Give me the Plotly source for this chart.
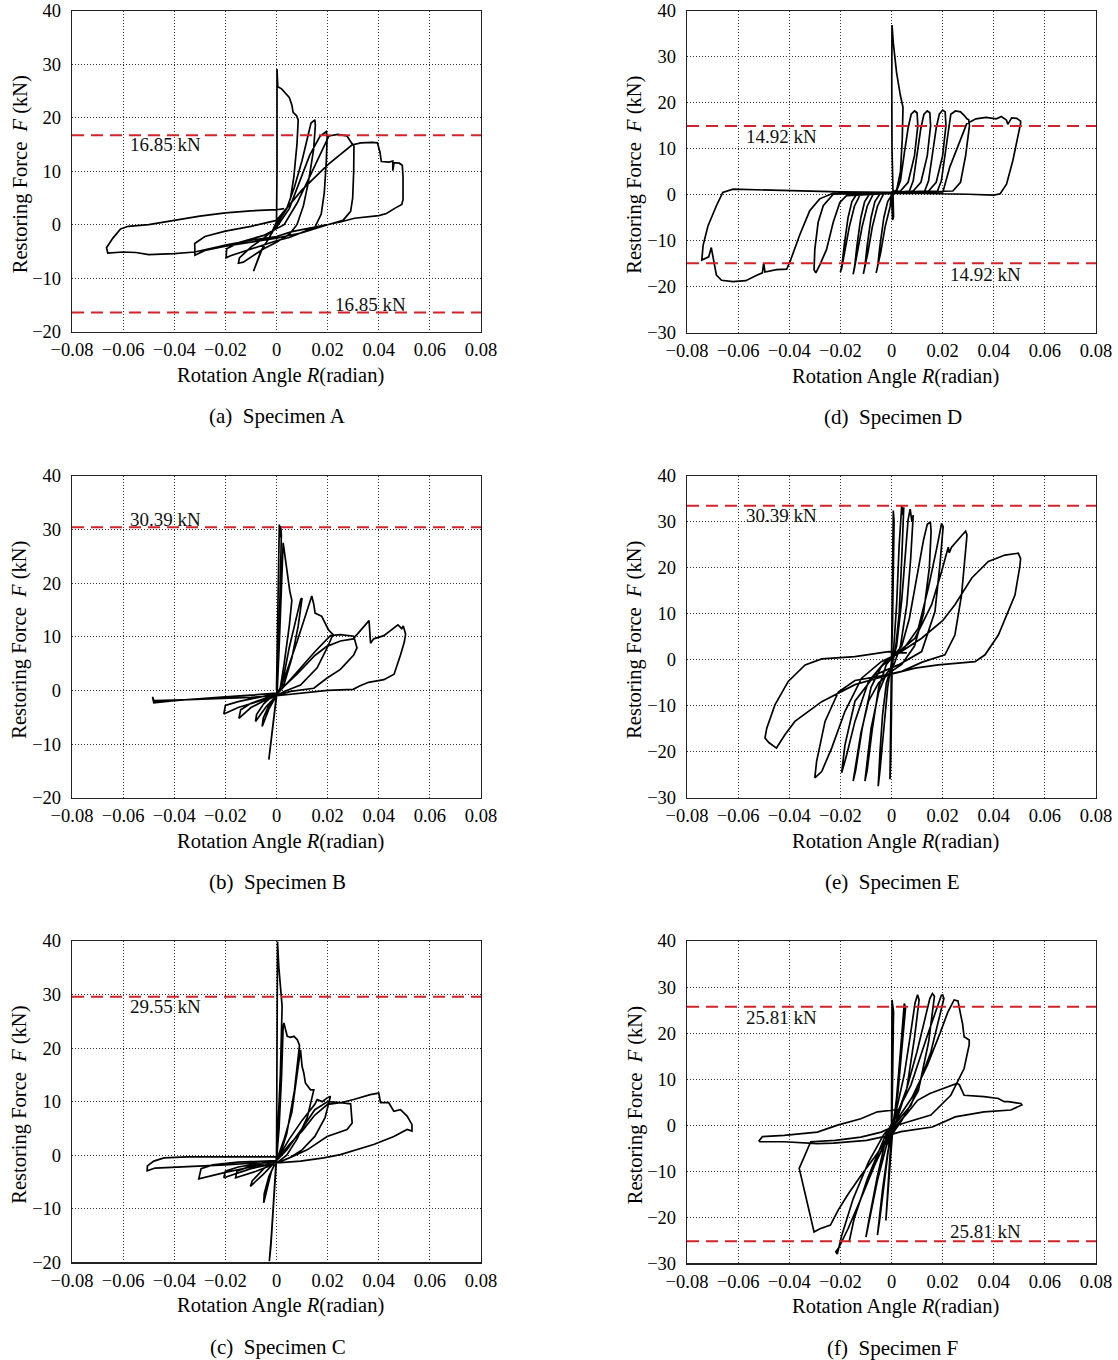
import plotly.graph_objects as go

# ---------------- data ----------------
R_TICKVALS = [-0.08, -0.06, -0.04, -0.02, 0, 0.02, 0.04, 0.06, 0.08]
R_TICKTEXT = ["−0.08", "−0.06", "−0.04", "−0.02", "0", "0.02", "0.04", "0.06", "0.08"]
F_TICKS_20 = [-20, -10, 0, 10, 20, 30, 40]
F_TICKS_30 = [-30, -20, -10, 0, 10, 20, 30, 40]

# Specimen A hysteresis (R [rad], F [kN])
A_PTS = [
    (0, 0), (0.0002, 10), (0.0002, 29.1), (0.0005, 25.8), (0.002, 25.4), (0.0035, 24.6), (0.005, 23.8), (0.006, 22.4),
    (0.0065, 21.0), (0.0078, 20.4), (0.0085, 19.6),
    (0.008, 15), (0.0068, 9), (0.0055, 5), (0.004, 3), (0.002, 1.5), (0, 0), (-0.003, -2.5), (-0.006, -5), (-0.008, -7.5), (-0.009, -8.7),
    (-0.0085, -8.2), (-0.006, -4.8), (-0.003, -2.6), (0, 0.5), (0.004, 3), (0.007, 7), (0.01, 12), (0.012, 16), (0.0135, 19),
    (0.015, 19.6), (0.0152, 18.6),
    (0.0145, 14), (0.0125, 8), (0.0105, 3.5), (0.008, 0), (0.005, -1.8), (0, -3.3), (-0.005, -4.5), (-0.01, -6), (-0.013, -7), (-0.0149, -7.2),
    (-0.0145, -6.2), (-0.01, -4.2), (-0.005, -2.5), (0, -0.5), (0.005, 3), (0.009, 8), (0.013, 13), (0.017, 16.5), (0.0195, 17.4), (0.0198, 16.5),
    (0.0195, 12), (0.0187, 6), (0.0175, 2), (0.015, -0.5), (0.01, -1.5), (0.005, -2.4), (0, -3), (-0.01, -4.5), (-0.018, -5.8), (-0.0197, -6.2),
    (-0.0195, -4.5), (-0.015, -3.4), (-0.005, -2), (0.003, 0), (0.008, 4), (0.013, 9), (0.017, 13), (0.0205, 16.6), (0.024, 16.9),
    (0.0275, 16.6), (0.0295, 15.2), (0.0303, 14.7),
    (0.0302, 10), (0.0298, 5), (0.029, 2.5), (0.026, 0.8), (0.02, 0), (0.01, -1.5), (0, -2.5), (-0.01, -3.3), (-0.02, -4), (-0.028, -4.8), (-0.0319, -5.7),
    (-0.032, -3.5), (-0.028, -2.2), (-0.02, -1.2), (-0.01, -0.3), (0, 0.8), (0.004, 3), (0.01, 6.5), (0.02, 11.2), (0.0295, 14.9),
    (0.033, 15.3), (0.0375, 15.4), (0.0395, 15.3), (0.0405, 13.5), (0.041, 11.8), (0.044, 11.7), (0.0455, 11.9), (0.0455, 10.1),
    (0.046, 11.6), (0.048, 11.5), (0.0492, 11.1), (0.0495, 9), (0.0495, 4.7),
    (0.049, 3.8), (0.0464, 3.1), (0.043, 2.1), (0.04, 1.7), (0.035, 1.5), (0.0305, 1.2), (0.025, 0.5), (0.02, 0), (0.012, -0.8),
    (0.006, -1.3), (0, -2.2), (-0.01, -2.9), (-0.019, -3.7), (-0.025, -4.3), (-0.032, -5.1), (-0.04, -5.4), (-0.05, -5.6),
    (-0.055, -5.2), (-0.06, -5.1), (-0.066, -5.3),
    (-0.0665, -4.3), (-0.064, -2.5), (-0.061, -0.8), (-0.058, -0.3), (-0.05, 0), (-0.04, 0.8), (-0.03, 1.6), (-0.02, 2.2),
    (-0.01, 2.6), (0, 2.8), (0.003, 3),
]

# Specimen D
D_PTS = [
    (0, 0), (0.0004, -5.5), (0.0008, -4.8), (0.0006, 0), (0.0002, 10), (0.0001, 25), (0.0002, 36.9), (0.0007, 33), (0.002, 26.5),
    (0.0035, 21.5), (0.0045, 19),
    (0.0042, 12), (0.0035, 5), (0.002, 1), (0, 0.4),
    (-0.0005, -2.5), (-0.0025, -7), (-0.0042, -12.5), (-0.0055, -16), (-0.006, -17), (-0.0054, -15.5), (-0.0045, -11), (-0.003, -5),
    (-0.0015, -1.5), (0.0005, 0.3),
    (0.002, 0.8), (0.0035, 3), (0.005, 9), (0.0065, 14.5), (0.0077, 17.5), (0.009, 18.2), (0.01, 17.8), (0.0103, 15), (0.009, 8.5),
    (0.0065, 2.7), (0.0035, 0.8), (0, 0.5),
    (-0.003, 0.3), (-0.0055, -2.5), (-0.0075, -7), (-0.0092, -12.5), (-0.0105, -16), (-0.011, -17.2), (-0.0104, -15.5), (-0.0095, -11),
    (-0.008, -5), (-0.0065, -1.5), (-0.0045, 0.2), (0, 0.4),
    (0.007, 0.8), (0.0085, 3), (0.01, 9), (0.0115, 14.5), (0.0127, 17.5), (0.014, 18.2), (0.015, 17.8), (0.0153, 15), (0.014, 8.5),
    (0.0115, 2.7), (0.0085, 0.8), (0, 0.4),
    (-0.007, 0.3), (-0.0095, -2.5), (-0.0115, -7), (-0.0132, -12.5), (-0.0145, -16), (-0.015, -17.3), (-0.0144, -15.5), (-0.0135, -11),
    (-0.012, -5), (-0.0105, -1.5), (-0.0085, 0.2), (0, 0.4),
    (0.013, 0.8), (0.0145, 3), (0.016, 9), (0.0175, 14.5), (0.0187, 17.5), (0.02, 18.4), (0.021, 18), (0.0213, 15), (0.02, 8.5),
    (0.0175, 2.7), (0.0145, 0.8), (0, 0.4),
    (-0.012, 0.3), (-0.0145, -2.5), (-0.0165, -7), (-0.0182, -12.5), (-0.0195, -16), (-0.02, -16.8), (-0.0194, -15.5), (-0.0185, -11),
    (-0.017, -5), (-0.0155, -1.5), (-0.0135, 0.2), (0, 0.4),
    (0.018, 0.8), (0.0195, 3), (0.021, 9), (0.0222, 14.5), (0.0232, 17.5), (0.025, 18.2), (0.027, 18), (0.0285, 17.2), (0.0295, 16.5),
    (0.0302, 16.3), (0.0305, 15), (0.029, 8.5), (0.027, 2.7), (0.024, 0.8), (0, 0.4),
    (-0.0228, 0.1), (-0.0267, -2.4), (-0.0287, -6), (-0.03, -11.9), (-0.0303, -16.3), (-0.0296, -17), (-0.028, -15.2), (-0.0254, -11.9),
    (-0.0228, -6), (-0.0202, -1.7), (-0.0176, -0.2), (0, 0.3),
    (0.02, 0.4), (0.0228, 6), (0.0268, 11.8), (0.0294, 15.4), (0.033, 16.5), (0.037, 16.8), (0.041, 16.5), (0.043, 17), (0.045, 16.2),
    (0.0455, 15.3), (0.047, 16.7), (0.049, 16.6), (0.0505, 16), (0.0505, 15.5),
    (0.0475, 7.5), (0.045, 2.3), (0.0425, 0.2), (0.04, -0.1), (0.03, 0.1), (0.015, 0.3), (0, 0.4), (-0.0229, 0.3),
    (-0.0281, -0.9), (-0.032, -3.5), (-0.0358, -8.6), (-0.0396, -14.4), (-0.041, -16.2), (-0.045, -16.3), (-0.0495, -16.8),
    (-0.05, -14.8), (-0.0505, -17), (-0.0527, -17.5), (-0.057, -18.7), (-0.062, -18.9), (-0.0665, -18.6), (-0.0685, -17.5),
    (-0.0695, -14), (-0.0705, -11.5), (-0.0715, -13.5), (-0.0742, -14.2),
    (-0.0737, -11), (-0.0718, -6.8), (-0.0685, -2.4), (-0.066, 0.5), (-0.062, 1.2), (-0.05, 1.0), (-0.04, 0.9), (-0.02, 0.6),
    (0, 0.5), (0.002, 0.5),
]

# Specimen B
B_PTS = [
    (0, 0), (0.0005, 16), (0.0009, 29), (0.0011, 30.9), (0.0013, 28.5), (0.0016, 30.6), (0.0019, 29),
    (0.0015, 18), (0.0008, 6), (0.0002, 0), (-0.0008, -4), (-0.0018, -8), (-0.0025, -10.5), (-0.003, -12.9), (-0.0027, -12),
    (-0.0018, -8), (-0.0008, -3.5), (0.0003, 0),
    (0.0012, 10), (0.002, 22), (0.0026, 27.5), (0.0029, 26.5), (0.0036, 24), (0.0042, 21.5), (0.0052, 18.5), (0.006, 16.8),
    (0.005, 12), (0.003, 5), (0.0015, 0.5), (0, -1), (-0.003, -3.5), (-0.0056, -6.7), (-0.0052, -5.2), (-0.003, -2.8), (0, -0.8),
    (0.002, 0.5), (0.005, 8), (0.008, 14), (0.0095, 17), (0.01, 17.2),
    (0.0085, 12), (0.006, 6), (0.003, 1.2), (0, -1), (-0.004, -3), (-0.0082, -5.8), (-0.0078, -4.5), (-0.005, -2.5), (-0.002, -1.2),
    (0.001, -0.3),
    (0.004, 3.5), (0.008, 9), (0.011, 13.5), (0.0138, 17.6), (0.0146, 16), (0.0151, 14.4), (0.0177, 13.8), (0.0203, 11.3), (0.0221, 10.4),
    (0.0198, 7.9), (0.0159, 4.2), (0.0094, 1), (0.003, -0.2), (0, -1), (-0.005, -2), (-0.01, -3.2), (-0.0147, -5.2), (-0.014, -3.6),
    (-0.01, -2.4), (-0.005, -1.6), (0, -0.8),
    (0.005, 1.8), (0.01, 4.5), (0.015, 7.2), (0.0211, 10.2), (0.025, 10.4), (0.0302, 10.1), (0.0315, 7.9), (0.0302, 6.6), (0.025, 3.9),
    (0.0198, 2.3), (0.0146, 0.4), (0.0055, -0.2), (0, -1),
    (-0.008, -2.2), (-0.015, -3.2), (-0.0206, -4.4), (-0.02, -2.8), (-0.015, -2.1), (-0.008, -1.4), (0, -0.6),
    (0.008, 3), (0.015, 6.5), (0.0197, 8.2), (0.025, 9.2), (0.03, 9.6), (0.034, 11.8), (0.0362, 13), (0.0368, 8.8), (0.038, 9.6),
    (0.042, 10.2), (0.046, 11.6), (0.0475, 12.2), (0.049, 11.5), (0.0496, 12), (0.0505, 10.5),
    (0.05, 9), (0.0485, 6.6), (0.046, 3), (0.042, 2), (0.036, 1.5), (0.0325, 0.8), (0.03, 0.2), (0.02, 0), (0.01, -0.5), (0, -1),
    (-0.01, -1.3), (-0.02, -1.5), (-0.03, -1.7), (-0.04, -1.8), (-0.048, -1.9), (-0.0485, -1.2), (-0.048, -2.3), (-0.04, -1.9),
    (-0.03, -1.5), (-0.02, -1.2), (-0.01, -0.9), (0, -0.5),
]

# Specimen E
E_PTS = [
    (0, 0), (0.0004, 20), (0.0007, 32.5), (0.001, 30), (0.0008, 20), (0.0004, 8), (0, 0), (-0.0003, -10), (-0.0006, -20),
    (-0.0006, -26), (-0.0003, -22), (0, -12), (0.0002, -3),
    (0.0008, 2), (0.002, 12), (0.003, 25), (0.0035, 31), (0.004, 33.5), (0.0045, 31.5), (0.0048, 33.2), (0.004, 22), (0.003, 10),
    (0.0015, 2), (0, -1.5), (-0.002, -5), (-0.0035, -12), (-0.0045, -20), (-0.0052, -27.5),
    (-0.0045, -24), (-0.003, -15), (-0.0015, -6), (0, -0.5),
    (0.002, 3), (0.004, 13), (0.0055, 24), (0.0065, 30.5), (0.0073, 32.8), (0.008, 30), (0.0085, 31.5), (0.0075, 22), (0.006, 12),
    (0.0035, 3), (0.001, -1), (-0.002, -3), (-0.005, -7), (-0.008, -15), (-0.0095, -22), (-0.0104, -26.4),
    (-0.0095, -24), (-0.0075, -15), (-0.005, -6), (-0.002, -1), (0.001, 1),
    (0.004, 3), (0.007, 9), (0.01, 18), (0.0125, 26), (0.014, 29.5), (0.0152, 30), (0.0155, 28), (0.0148, 20), (0.0125, 10),
    (0.009, 3), (0.004, -1), (0, -2.5), (-0.005, -5), (-0.009, -9), (-0.012, -16), (-0.014, -23), (-0.015, -26.4),
    (-0.014, -24), (-0.0115, -15), (-0.008, -6), (-0.004, -1.5), (0, 0.5),
    (0.004, 1.8), (0.0105, 6.9), (0.0144, 15.6), (0.0177, 24.3), (0.019, 28.6), (0.0196, 29.7), (0.0202, 29), (0.019, 21),
    (0.017, 10.5), (0.0118, 1.8), (0.0027, -1.1), (-0.0065, -3.3), (-0.0143, -9), (-0.0182, -18.5), (-0.0195, -24.6),
    (-0.0175, -20.6), (-0.0143, -13.4), (-0.009, -4.7), (-0.0025, -0.4),
    (0.0014, 1.1), (0.0092, 4.7), (0.0157, 12), (0.0196, 19.2), (0.021, 22), (0.0222, 24.5), (0.0226, 23.3), (0.0235, 24.5),
    (0.0274, 27), (0.029, 28), (0.0295, 27.2), (0.0294, 26.3),
    (0.0274, 14.1), (0.0248, 5.4), (0.0209, 1.1), (0.012, -0.5), (0.004, -2.5), (-0.004, -3.5), (-0.0143, -4.5), (-0.0208, -7),
    (-0.026, -13.4), (-0.0293, -22.1), (-0.03, -25.7),
    (-0.0273, -24.3), (-0.0234, -19.2), (-0.0182, -11.2), (-0.0117, -4), (-0.004, -0.4), (0.003, 1.5), (0.0118, 4.7), (0.02, 8.5),
    (0.0248, 12), (0.0314, 17.8), (0.0379, 21.4), (0.0444, 22.8), (0.0496, 23.2), (0.0505, 22), (0.0502, 20.3),
    (0.0483, 14.1), (0.0418, 5.4), (0.0366, 1.1), (0.0327, -0.4), (0.0183, -1.1), (0.0092, -1.8), (-0.0012, -3.3), (-0.0143, -5.4),
    (-0.0273, -9.1), (-0.0378, -13.4), (-0.0417, -16.3), (-0.045, -19.2), (-0.048, -18), (-0.0495, -17),
    (-0.0488, -14.9), (-0.0456, -9.8), (-0.0404, -4.7), (-0.0338, -1.1), (-0.0273, 0.2), (-0.0143, 0.7), (-0.0012, 1.8), (0.006, 1.5),
]

# Specimen C
C_PTS = [
    (0, 0), (-0.001, -8), (-0.002, -15), (-0.0028, -19.8), (-0.0022, -17), (-0.001, -8), (0, -1),
    (0.0002, 20), (0.0004, 39.9), (0.0009, 35.2), (0.0016, 30.9), (0.0022, 27.8),
    (0.0015, 15), (0.0005, 3), (0, -1), (-0.002, -3), (-0.0035, -6), (-0.005, -8.9), (-0.0048, -7.2), (-0.003, -4), (-0.001, -2), (0, -1),
    (0.001, 5), (0.002, 15), (0.0026, 24), (0.0029, 24.7), (0.0042, 22.2), (0.0055, 22), (0.0068, 22.2), (0.0081, 21.6), (0.009, 20.5),
    (0.007, 12), (0.004, 4), (0.001, -0.5), (-0.005, -3.5), (-0.0102, -5.8), (-0.0095, -4.8), (-0.005, -2.5), (0, -1),
    (0.003, 3), (0.006, 8), (0.0094, 19.7), (0.01, 16.6), (0.0107, 15.3), (0.0113, 13.5), (0.0133, 12.2), (0.0146, 12.2),
    (0.012, 7), (0.008, 3), (0.004, 0), (0, -1.5), (-0.008, -3), (-0.016, -4.2), (-0.0155, -3), (-0.01, -2), (0, -1),
    (0.005, 3), (0.01, 6.5), (0.015, 9.5), (0.0159, 10.4), (0.0179, 10), (0.0198, 10.7), (0.0211, 11),
    (0.019, 7), (0.015, 3.5), (0.01, 1), (0.005, -0.5), (0, -1.5), (-0.01, -2.5), (-0.0206, -4.2), (-0.02, -3), (-0.015, -2.2),
    (-0.01, -1.8), (0, -1),
    (0.005, 2), (0.01, 4.5), (0.015, 7.5), (0.02, 9.5), (0.025, 9.8), (0.029, 9.6), (0.0296, 6), (0.0276, 4.8), (0.0198, 3.5),
    (0.012, 1), (0.005, -0.5), (0, -1.5),
    (-0.01, -2.2), (-0.02, -3.2), (-0.0304, -4.4), (-0.0295, -2.5), (-0.025, -1.8), (-0.015, -1.3), (0, -1),
    (0.004, 1), (0.01, 5), (0.015, 8.5), (0.02, 10), (0.025, 9.8), (0.0302, 10.4), (0.0367, 11.3), (0.04, 11.6), (0.0407, 9.8),
    (0.0439, 9.8), (0.0459, 8.2), (0.0485, 8.5), (0.0511, 7.3), (0.053, 5.7), (0.053, 4.5),
    (0.0511, 4.8), (0.0459, 3.5), (0.038, 2), (0.0315, 1.1), (0.025, 0.1), (0.0185, -0.5), (0.0094, -1.1), (0.0016, -1.4),
    (-0.01, -1.5), (-0.02, -1.8), (-0.03, -2), (-0.04, -2.2), (-0.0475, -2.4), (-0.0506, -2.9), (-0.0505, -2.0), (-0.048, -1.1),
    (-0.044, -0.5), (-0.035, -0.3), (-0.02, -0.3), (0, -0.3),
]

# Specimen F
F_PTS = [
    (0, 0), (0.0001, 15), (0.0002, 27.2), (0.0008, 24.6), (0.0006, 12), (0.0002, 2), (-0.0005, -6), (-0.0015, -15), (-0.0022, -20.7),
    (-0.0015, -17), (-0.0005, -8), (0.0005, -1), (0.002, 6), (0.0035, 16), (0.0045, 23), (0.005, 26.4), (0.0055, 25.5),
    (0.004, 17), (0.0025, 7), (0.0005, 0), (-0.0015, -6), (-0.0035, -14), (-0.0048, -20), (-0.0055, -23.9),
    (-0.0045, -20), (-0.0025, -11), (-0.0005, -2), (0.002, 3.5), (0.005, 11), (0.0075, 20), (0.0092, 26.5), (0.0102, 28.3), (0.0108, 27.2),
    (0.009, 19), (0.006, 8), (0.002, 1), (-0.002, -4.5), (-0.0055, -12), (-0.0085, -20), (-0.01, -24.3),
    (-0.0088, -20.5), (-0.0055, -11), (-0.002, -2.5), (0.002, 2), (0.006, 8), (0.01, 16), (0.0135, 24), (0.015, 27.5), (0.016, 28.6),
    (0.0168, 28),
    (0.0145, 18), (0.0105, 7.5), (0.004, 1), (-0.003, -4.5), (-0.0095, -12), (-0.0145, -20), (-0.0166, -25.4),
    (-0.0146, -20.3), (-0.0094, -11.6), (-0.0029, -2.9), (0.001, 1.4), (0.0076, 8.7), (0.0141, 19.6), (0.018, 26.1), (0.0195, 28.2),
    (0.02, 28.3), (0.0205, 27.5),
    (0.0154, 15.9), (0.0076, 4.3), (0.001, 0), (-0.0055, -7.2), (-0.012, -16), (-0.017, -22.5), (-0.0205, -26.5), (-0.0218, -27.5),
    (-0.0212, -28),
    (-0.0195, -24), (-0.015, -16), (-0.009, -8), (-0.003, -2), (0.002, 1), (0.008, 6), (0.014, 13), (0.019, 20), (0.022, 24.5),
    (0.0245, 27.2), (0.026, 27), (0.0271, 23.9), (0.0278, 22), (0.0284, 19.2), (0.029, 19), (0.0304, 18.5), (0.0304, 17.5),
    (0.0284, 12.3), (0.0232, 6.5), (0.0154, 2.2), (0.0063, 0.7), (0.0023, 0),
    (-0.002, -3), (-0.006, -6.5), (-0.012, -11), (-0.017, -15), (-0.0208, -18.4), (-0.0239, -21.7), (-0.028, -22.5), (-0.0303, -23.2),
    (-0.0361, -9.4),
    (-0.0316, -3.6), (-0.022, -3.3), (-0.012, -2.6), (-0.004, -1.5), (0.002, 0),
    (0.006, 2.5), (0.0102, 5.4), (0.015, 6.9), (0.0203, 8.0), (0.0258, 9.1), (0.0266, 8.7), (0.0284, 6.5), (0.0362, 6.2),
    (0.0418, 5.8), (0.0441, 5.1), (0.0457, 5.1), (0.0506, 4.7), (0.051, 4.4),
    (0.0467, 3.3), (0.0362, 2.9), (0.0249, 1.8), (0.016, -0.4), (0.0037, -1.4), (-0.003, -2.5), (-0.0097, -3.3), (-0.016, -3.6),
    (-0.0227, -3.9), (-0.029, -4.0), (-0.036, -3.7), (-0.042, -3.6), (-0.0515, -3.6), (-0.0518, -3.4),
    (-0.0505, -2.5), (-0.042, -2.2), (-0.029, -1.5), (-0.0211, 0), (-0.012, 1.4), (-0.0055, 2.9), (0.001, 3.3), (0.0033, 3.4),
]

# Reference (dashed) force levels and their labels: (text, R, F)
A_LINES = [16.7, -16.4]
D_LINES = [14.92, -14.92]
B_LINES = [30.39]
E_LINES = [33.5]
C_LINES = [29.6]
F_LINES = [25.7, -25.2]

A_LABELS = [("16.85 kN", -0.058, 15.0), ("16.85 kN", 0.0222, -14.9)]
D_LABELS = [("14.92 kN", -0.0577, 12.7), ("14.92 kN", 0.0222, -17.3)]
B_LABELS = [("30.39 kN", -0.058, 31.8)]
E_LABELS = [("30.39 kN", -0.0577, 31.3)]
C_LABELS = [("29.55 kN", -0.058, 27.7)]
F_LABELS = [("25.81 kN", -0.0577, 23.4), ("25.81 kN", 0.0222, -23.1)]

CAPTIONS = ["(a)&nbsp; Specimen A", "(d)&nbsp; Specimen D", "(b)&nbsp; Specimen B",
            "(e)&nbsp; Specimen E", "(c)&nbsp; Specimen C", "(f)&nbsp; Specimen F"]

# ---------------- figure ----------------
W, H = 1118, 1360
FONT = "Liberation Serif, Times New Roman, serif"

# panel pixel boxes: (left, right, top, bottom)
panels = [
    dict(pts=A_PTS, yr=[-20, 40], yt=F_TICKS_20, lines=A_LINES, labels=A_LABELS, box=(72, 481, 10.7, 331.7)),
    dict(pts=D_PTS, yr=[-30, 40], yt=F_TICKS_30, lines=D_LINES, labels=D_LABELS, box=(687, 1096, 10.7, 332.7)),
    dict(pts=B_PTS, yr=[-20, 40], yt=F_TICKS_20, lines=B_LINES, labels=B_LABELS, box=(72, 481, 475.7, 797.7)),
    dict(pts=E_PTS, yr=[-30, 40], yt=F_TICKS_30, lines=E_LINES, labels=E_LABELS, box=(687, 1096, 476, 797.7)),
    dict(pts=C_PTS, yr=[-20, 40], yt=F_TICKS_20, lines=C_LINES, labels=C_LABELS, box=(72, 481, 941, 1262.3)),
    dict(pts=F_PTS, yr=[-30, 40], yt=F_TICKS_30, lines=F_LINES, labels=F_LABELS, box=(687, 1096, 941, 1263.3)),
]

fig = go.Figure()
shapes = []
annotations = []
layout_axes = {}

for i, p in enumerate(panels, start=1):
    sfx = "" if i == 1 else str(i)
    xa, ya = "x" + sfx, "y" + sfx
    l, r, t, b = p["box"]
    xdom = [l / W, r / W]
    ydom = [1 - b / H, 1 - t / H]
    R = [q[0] for q in p["pts"]]
    Fv = [q[1] for q in p["pts"]]
    fig.add_trace(go.Scatter(x=R, y=Fv, mode="lines", xaxis=xa, yaxis=ya,
                             line=dict(color="black", width=1.7), showlegend=False, hoverinfo="skip"))
    common = dict(showline=True, mirror=True, linecolor="#222222", linewidth=1.2,
                  showgrid=True, gridcolor="#333333", gridwidth=1, griddash="1px,2px",
                  zeroline=False, ticks="", automargin=False,
                  tickfont=dict(family=FONT, size=18.5, color="black"),
                  fixedrange=True)
    layout_axes["xaxis" + sfx] = dict(common, domain=xdom, anchor=ya, range=[-0.08, 0.08],
                                      tickmode="array", tickvals=R_TICKVALS, ticktext=R_TICKTEXT,
                                      tickangle=0, ticklabelstandoff=1)
    layout_axes["yaxis" + sfx] = dict(common, domain=ydom, anchor=xa, range=p["yr"],
                                      tickmode="array", tickvals=p["yt"],
                                      ticktext=[("−" + str(-v)) if v < 0 else str(v) for v in p["yt"]],
                                      ticklabelstandoff=6)
    for v in p["lines"]:
        shapes.append(dict(type="line", xref=xa + " domain", yref=ya, x0=0, x1=1, y0=v, y1=v,
                           line=dict(color="#d2232a", width=2, dash="12px,7px"), layer="above"))
    for (txt, rx, fy) in p["labels"]:
        annotations.append(dict(text=txt, x=rx, y=fy, xref=xa, yref=ya, xanchor="left", yanchor="middle",
                                showarrow=False, font=dict(family=FONT, size=19, color="#111111")))
    cx = (l + r) / 2
    cy = (t + b) / 2
    # x-axis title
    annotations.append(dict(text="Rotation Angle <i>R</i>(radian)", x=(cx + 4) / W, y=1 - (b + 43.5) / H,
                            xref="paper", yref="paper", xanchor="center", yanchor="middle", showarrow=False,
                            font=dict(family=FONT, size=20.5, color="black")))
    # y-axis title
    annotations.append(dict(text="Restoring Force&nbsp; <i>F</i> (kN)", x=(l - 52) / W, y=1 - (cy + 3) / H,
                            xref="paper", yref="paper", xanchor="center", yanchor="middle", showarrow=False,
                            textangle=-90, font=dict(family=FONT, size=20.5, color="black")))
    # caption
    annotations.append(dict(text=CAPTIONS[i - 1], x=(cx + 1) / W, y=1 - (b + 84.5) / H,
                            xref="paper", yref="paper", xanchor="center", yanchor="middle", showarrow=False,
                            font=dict(family=FONT, size=21, color="black")))

fig.update_layout(template="none", width=W, height=H, margin=dict(l=0, r=0, t=0, b=0, pad=0), autosize=False,
                  paper_bgcolor="white", plot_bgcolor="white", showlegend=False,
                  shapes=shapes, annotations=annotations,
                  font=dict(family=FONT, color="black"), **layout_axes)

fig.write_html("out.html", config={"displayModeBar": False, "staticPlot": True},
               post_script="document.body.style.margin='0';document.body.style.padding='0';"
                           "document.body.style.overflow='hidden';")
